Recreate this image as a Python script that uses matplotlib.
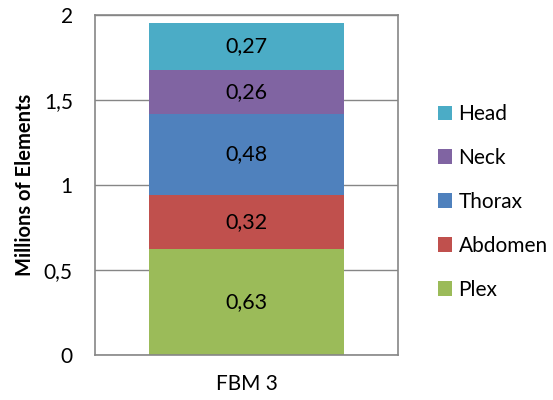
import matplotlib
matplotlib.use("Agg")
import matplotlib.pyplot as plt

category = ["FBM 3"]
parts = ["Plex", "Abdomen", "Thorax", "Neck", "Head"]
values = [0.625, 0.318, 0.477, 0.258, 0.275]
labels = ["0,63", "0,32", "0,48", "0,26", "0,27"]
colors = ["#9BBB59", "#C0504D", "#4F81BD", "#8064A2", "#4BACC6"]
yticks = [0, 0.5, 1, 1.5, 2]
ytick_labels = ["0", "0,5", "1", "1,5", "2"]

plt.rcParams["font.family"] = ["Lato", "DejaVu Sans"]

fig = plt.figure(figsize=(5.53, 4), dpi=100)
ax = fig.add_axes([95 / 553, 45 / 400, 303 / 553, 340 / 400])

bottom = 0
handles = []
for name, v, lab, c in zip(parts, values, labels, colors):
    b = ax.bar(0, v, width=0.644, bottom=bottom, color=c, label=name, zorder=2)
    ax.text(0, bottom + v / 2, lab, ha="center", va="center", fontsize=15.5, color="black", zorder=3)
    handles.append(b)
    bottom += v

ax.set_xlim(-0.5, 0.5)
ax.set_ylim(0, 2)
ax.set_yticks(yticks)
ax.set_yticklabels(ytick_labels, fontsize=15)
ax.set_xticks([0])
ax.set_xticklabels(category, fontsize=15)
ax.tick_params(axis="x", length=0, pad=14)
ax.tick_params(axis="y", length=0, pad=16)
ax.yaxis.grid(True, color="#868686", linewidth=1, zorder=0)
for s in ax.spines.values():
    s.set_color("#868686")
    s.set_linewidth(1.2)

ax.set_ylabel("Millions of Elements", fontsize=14.5, fontweight="bold", labelpad=6)

leg = fig.legend(handles[::-1], parts[::-1], loc="center left", bbox_to_anchor=(419 / 553, 1 - 202 / 400),
                 frameon=False, fontsize=15, handlelength=0.7, handleheight=0.7,
                 labelspacing=1.15, handletextpad=0.3)

fig.savefig("out.png", dpi=100)
